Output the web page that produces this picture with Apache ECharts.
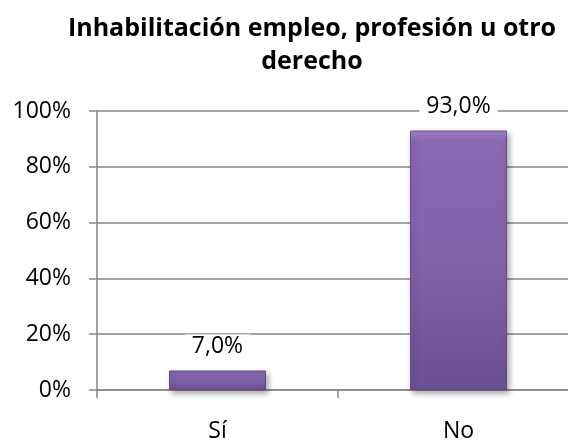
<!DOCTYPE html>
<html><head><meta charset="utf-8">
<script src="https://cdn.jsdelivr.net/npm/echarts@6/dist/echarts.min.js"></script>
<style>html,body{margin:0;padding:0;background:#fff;overflow:hidden;width:568px;height:445px}#c{width:580px;height:445px}</style>
</head><body><div id="c"></div>
<script>
var categories = ['Sí', 'No'];
var values = [7.0, 93.0];
var yTicks = [0, 20, 40, 60, 80, 100];

var chart = echarts.init(document.getElementById('c'));
var font = '"Open Sans", "Noto Sans", sans-serif';
chart.setOption({
  animation: false,
  title: {
    text: 'Inhabilitación empleo, profesión u otro\nderecho',
    left: 307, top: 7, textAlign: 'center',
    textStyle: { fontFamily: font, fontWeight: 'bold', fontSize: 25, lineHeight: 33, color: '#000' }
  },
  grid: { left: 97, right: 1, top: 111, bottom: 55, containLabel: false },
  xAxis: {
    type: 'category', data: categories,
    axisLine: { lineStyle: { color: '#868686', width: 1.5 } },
    axisTick: { show: true, length: 8, lineStyle: { color: '#868686', width: 1.5 } },
    axisLabel: { fontFamily: font, fontSize: 23, color: '#000', margin: 30 }
  },
  yAxis: {
    type: 'value', min: yTicks[0], max: yTicks[yTicks.length - 1], interval: 20,
    axisLine: { show: true, lineStyle: { color: '#868686', width: 1.5 } },
    axisTick: { show: true, inside: false, length: 8, lineStyle: { color: '#868686', width: 1.5 } },
    splitLine: { lineStyle: { color: '#868686', width: 1.5 } },
    axisLabel: { fontFamily: font, fontSize: 23, color: '#000', margin: 26,
      formatter: function (v) { return v + '%'; } }
  },
  series: [{
    type: 'bar', data: values, barWidth: 97,
    itemStyle: {
      color: new echarts.graphic.LinearGradient(0, 0, 0, 1, [
        { offset: 0, color: '#a585cc' },
        { offset: 0.04, color: '#8a6ab3' },
        { offset: 0.5, color: '#8062a9' },
        { offset: 1, color: '#6b4f93' }
      ]),
      borderColor: '#654a8c', borderWidth: 1,
      shadowColor: 'rgba(0,0,0,0.35)', shadowBlur: 6, shadowOffsetX: 2, shadowOffsetY: 3
    },
    label: {
      show: true, position: 'top', distance: 13,
      fontFamily: font, fontSize: 23, color: '#000',
      backgroundColor: '#fff', padding: [0, 7],
      formatter: function (p) { return p.value.toFixed(1).replace('.', ',') + '%'; }
    }
  }]
});
</script></body></html>
